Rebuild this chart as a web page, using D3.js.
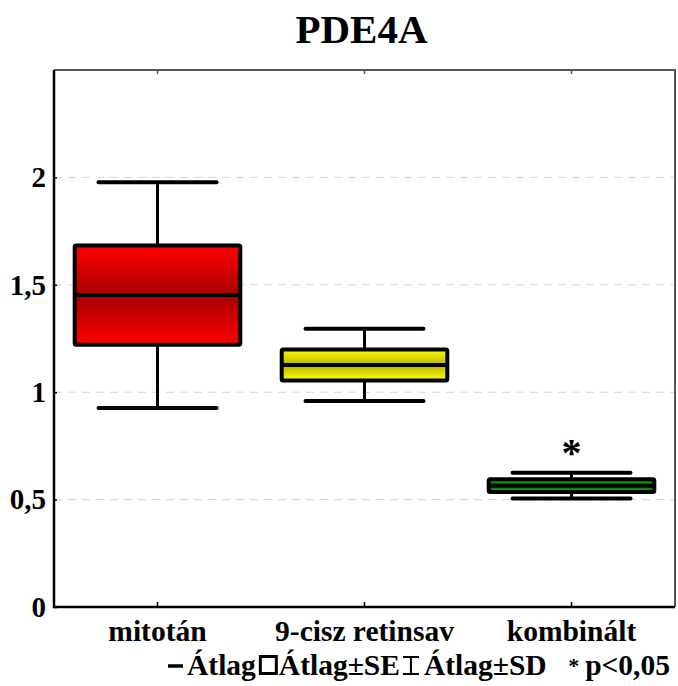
<!DOCTYPE html>
<html><head><meta charset="utf-8">
<script src="https://cdn.jsdelivr.net/npm/d3@7"></script>
<style>body{margin:0;background:#fff}svg{display:block}</style>
</head><body>
<script>
const categories = ["mitotán", "9-cisz retinsav", "kombinált"];
const means = [1.452, 1.127, 0.565];
const seValues = [0.231, 0.072, 0.030];
const sdValues = [0.525, 0.168, 0.060];
const significance = ["", "", "*"];
const yTicks = [0, 0.5, 1, 1.5, 2];
const yTickLabels = ["0", "0,5", "1", "1,5", "2"];
const title = "PDE4A";
const legendLabels = ["Átlag", "Átlag±SE", "Átlag±SD"];
const noteLabel = "p<0,05";
const fills = [["#ff0000", "#a80000"], ["#ffff00", "#b4b400"], ["#00c800", "#005a00"]];

const W = 678, H = 686;
const L = 54, R = 675, T = 70, B = 607;
const FONT = "'Liberation Serif','Times New Roman',serif";

const svg = d3.select("body").append("svg").attr("width", W).attr("height", H);
const defs = svg.append("defs");
fills.forEach((f, i) => {
  const g = defs.append("linearGradient").attr("id", "g" + i).attr("x1", 0).attr("y1", 0).attr("x2", 0).attr("y2", 1);
  g.append("stop").attr("offset", "0%").attr("stop-color", f[0]);
  g.append("stop").attr("offset", "50%").attr("stop-color", f[1]);
  g.append("stop").attr("offset", "100%").attr("stop-color", f[0]);
});

const x = d3.scaleBand().domain(categories).range([L, R]).padding(0);
const y = d3.scaleLinear().domain([0, 2.5]).range([B, T]);
const cx = c => x(c) + x.bandwidth() / 2;

// grid
svg.append("g").selectAll("line").data(yTicks.filter(v => v > 0)).join("line")
  .attr("x1", L).attr("x2", R).attr("y1", d => y(d)).attr("y2", d => y(d))
  .attr("stroke", "#d4d4d4").attr("stroke-width", 1).attr("stroke-dasharray", "8,6");

// frame top/right
svg.append("path").attr("d", `M${L},${T}H${R}V${B}`).attr("fill", "none").attr("stroke", "#555").attr("stroke-width", 2);

// top & bottom category ticks
categories.forEach(c => {
  svg.append("line").attr("x1", cx(c)).attr("x2", cx(c)).attr("y1", T).attr("y2", T + 4).attr("stroke", "#555").attr("stroke-width", 1.5);
  svg.append("line").attr("x1", cx(c)).attr("x2", cx(c)).attr("y1", B).attr("y2", B - 5).attr("stroke", "#000").attr("stroke-width", 1.5);
});

// y axis
const yAxis = d3.axisLeft(y).tickValues(yTicks).tickFormat((d, i) => yTickLabels[i]).tickSize(-3).tickPadding(8);
const ga = svg.append("g").attr("transform", `translate(${L},0)`).call(yAxis);
ga.select(".domain").remove();
ga.selectAll(".tick line").attr("stroke", "#000").attr("stroke-width", 1.5);
ga.selectAll(".tick text").attr("font-family", FONT).attr("font-weight", "bold").attr("font-size", 29).attr("fill", "#000");

// left and bottom axes lines
svg.append("path").attr("d", `M${L},${T}V${B}H${R}`).attr("fill", "none").attr("stroke", "#000").attr("stroke-width", 2.5);

// boxes
const boxW = x.bandwidth() * 0.8, capW = x.bandwidth() * 0.57;
const g = svg.append("g").selectAll("g").data(categories).join("g");
g.append("line").attr("x1", cx).attr("x2", cx)
  .attr("y1", (c, i) => y(means[i] + sdValues[i])).attr("y2", (c, i) => y(means[i] - sdValues[i]))
  .attr("stroke", "#000").attr("stroke-width", 3);
[1, -1].forEach(s => {
  g.append("line").attr("x1", c => cx(c) - capW / 2).attr("x2", c => cx(c) + capW / 2)
    .attr("y1", (c, i) => y(means[i] + s * sdValues[i])).attr("y2", (c, i) => y(means[i] + s * sdValues[i]))
    .attr("stroke", "#000").attr("stroke-width", 4).attr("stroke-linecap", "round");
});
g.append("rect").attr("x", c => cx(c) - boxW / 2).attr("width", boxW)
  .attr("y", (c, i) => y(means[i] + seValues[i])).attr("height", (c, i) => y(means[i] - seValues[i]) - y(means[i] + seValues[i]))
  .attr("fill", (c, i) => `url(#g${i})`).attr("stroke", "#000").attr("stroke-width", 4).attr("rx", 1.5);
g.append("line").attr("x1", c => cx(c) - boxW / 2).attr("x2", c => cx(c) + boxW / 2)
  .attr("y1", (c, i) => y(means[i])).attr("y2", (c, i) => y(means[i]))
  .attr("stroke", "#000").attr("stroke-width", 4);
g.append("text").attr("x", cx).attr("y", (c, i) => y(means[i] + sdValues[i]) - 7)
  .attr("text-anchor", "middle").attr("font-family", FONT).attr("font-weight", "bold").attr("font-size", 40)
  .text((c, i) => significance[i]);

// title
svg.append("text").attr("x", (L + R) / 2 - 3).attr("y", 43).attr("text-anchor", "middle")
  .attr("font-family", FONT).attr("font-weight", "bold").attr("font-size", 41).text(title);

// x labels
svg.append("g").selectAll("text").data(categories).join("text")
  .attr("x", cx).attr("y", 641).attr("text-anchor", "middle")
  .attr("font-family", FONT).attr("font-weight", "bold").attr("font-size", 29.5).text(d => d);

// legend
const lg = svg.append("g");
const ly = 675;
const LFS = 29.5;
let lx = 168;
function txt(s) {
  const t = lg.append("text").attr("x", lx).attr("y", ly).attr("font-family", FONT).attr("font-weight", "bold").attr("font-size", LFS).text(s);
  lx += t.node().getComputedTextLength();
  return t;
}
lg.append("line").attr("x1", lx).attr("x2", lx + 15).attr("y1", ly - 9).attr("y2", ly - 9).attr("stroke", "#000").attr("stroke-width", 3.5);
lx += 19;
txt(legendLabels[0]);
lx += 3;
lg.append("rect").attr("x", lx + 1.5).attr("y", ly - 18.5).attr("width", 16).attr("height", 17).attr("fill", "none").attr("stroke", "#000").attr("stroke-width", 3);
lx += 20;
txt(legendLabels[1]);
lx += 3;
lg.append("path").attr("d", `M${lx},${ly - 18}H${lx + 16}M${lx + 8},${ly - 18}V${ly - 1}M${lx},${ly - 1}H${lx + 16}`).attr("fill", "none").attr("stroke", "#000").attr("stroke-width", 2);
lx += 21;
txt(legendLabels[2]);
// note right-aligned
const note = lg.append("text").attr("x", 670).attr("y", ly).attr("text-anchor", "end").attr("font-family", FONT).attr("font-weight", "bold").attr("font-size", LFS).text(noteLabel);
const nw = note.node().getComputedTextLength();
lg.append("text").attr("x", 670 - nw - 6).attr("y", ly - 2).attr("text-anchor", "end").attr("font-family", FONT).attr("font-weight", "bold").attr("font-size", 22).text("*");
</script>
</body></html>
